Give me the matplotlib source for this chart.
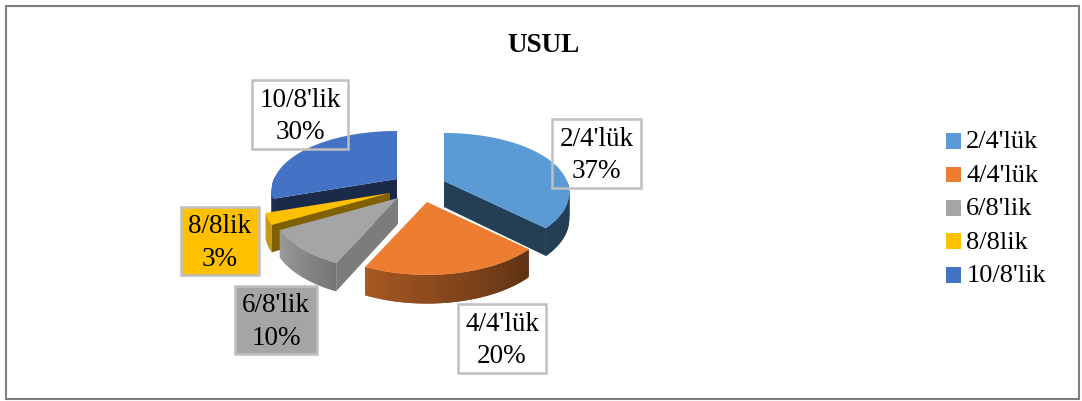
import numpy as np
import matplotlib
matplotlib.use('Agg')
import matplotlib.pyplot as plt
from matplotlib.patches import Polygon, Rectangle, Patch

categories = ["2/4'lük", "4/4'lük", "6/8'lik", "8/8lik", "10/8'lik"]
values = [37, 20, 10, 3, 30]
percents = ['37%', '20%', '10%', '3%', '30%']
colors = ['#5B9BD5', '#ED7D31', '#A5A5A5', '#FFC000', '#4472C4']

# apex of each slice after explosion, in pixels
apex = [(444, 181), (427, 202), (398, 198), (390, 193), (397, 179)]
wall_shade = [0.40, 0.40, 0.75, 0.50, 0.38]
outer_cap = [0.40, 0.72, 0.95, 0.75, 0.40]
# label boxes: left, top, right, bottom
boxes = [(552, 119, 641, 188), (458, 304, 546, 373), (235, 286, 317, 354),
         (181, 207, 259, 275), (252, 80, 348, 149)]
box_filled = [False, False, True, True, False]
draw_order = [4, 3, 2, 0, 1]
RX, RY, KX, KY = 123, 60.5, 0.20, 0.206
H = 26

plt.rcParams['font.family'] = ['Liberation Serif', 'DejaVu Serif']


def project(ax0, ay0, ang):
    # unit circle position to screen, near edge drawn larger
    x = np.sin(np.radians(ang))
    y = np.cos(np.radians(ang))
    return ax0 + RX * x * (1 - KX * y), ay0 - RY * y * (1 - KY * y), H * (1 - 0.1 * y)


def shade(col, f):
    return tuple(c * f for c in matplotlib.colors.to_rgb(col))


def draw_slice(ax, i, a0, a1, z):
    ax0, ay0 = apex[i]
    col = colors[i]
    # radial cut walls facing the viewer
    for a, visible in ((a0, np.sin(np.radians(a0)) < -1e-6), (a1, np.sin(np.radians(a1)) > 1e-6)):
        if visible:
            ex, ey, h = project(ax0, ay0, a)
            ax.add_patch(Polygon([(ax0, ay0), (ex, ey), (ex, ey + h), (ax0, ay0 + H)],
                                 closed=True, fc=shade(col, wall_shade[i]), ec='none', zorder=z))
    # outer wall in small strips for the gradient, each overlaps the next to hide seams
    angs = np.linspace(a0, a1, 60)
    strip = 2 * (angs[1] - angs[0])
    for p in angs[:-1]:
        if 90 <= p <= 270:
            q = min(p + strip, a1)
            f = min(np.interp(p, [133, 205, 241], [0.40, 0.71, 0.95]), outer_cap[i])
            x0, y0, h0 = project(ax0, ay0, p)
            x1, y1, h1 = project(ax0, ay0, q)
            ax.add_patch(Polygon([(x0, y0), (x1, y1), (x1, y1 + h1), (x0, y0 + h0)],
                                 closed=True, fc=shade(col, f), ec='none', zorder=z))
    # top face
    xs, ys, _ = project(ax0, ay0, angs)
    pts = [(ax0, ay0)] + list(zip(xs, ys))
    ax.add_patch(Polygon(pts, closed=True, fc=col, ec='none', zorder=z + 0.5))


fig = plt.figure(figsize=(10.82, 4.01), dpi=100)
ax = fig.add_axes([0, 0, 1, 1])
ax.set_xlim(0, 1082)
ax.set_ylim(401, 0)
ax.axis('off')

ax.add_patch(Rectangle((6, 6), 1073, 393, fc='white', ec='#7F7F7F', lw=1.5, zorder=0))
ax.text(544, 45, 'USUL', ha='center', va='center', fontsize=19.5, fontweight='bold', zorder=20)

edges = np.concatenate([[0], np.cumsum(values)]) / sum(values) * 360
for z, i in enumerate(draw_order):
    draw_slice(ax, i, edges[i], edges[i + 1], z + 2)

for i, (l, t, r, b) in enumerate(boxes):
    ax.add_patch(Rectangle((l, t), r - l, b - t, fc=colors[i] if box_filled[i] else 'none',
                           ec='#BFBFBF', lw=1.8, zorder=10))
    ax.text((l + r) / 2, (t + b) / 2 + 2, categories[i] + '\n' + percents[i], ha='center', va='center',
            fontsize=19.5, linespacing=1.42, color='black', zorder=11)

handles = [Patch(fc=c, ec='none') for c in colors]
leg = ax.legend(handles, categories, loc='center left', bbox_to_anchor=(946, 209),
                bbox_transform=ax.transData, frameon=False, fontsize=19, handlelength=0.55,
                handleheight=0.55, handletextpad=0.22, labelspacing=0.42, borderpad=0, borderaxespad=0)
for h in leg.legend_handles:
    h.set_y(h.get_y() - 1.5)

fig.savefig('out.png', dpi=100)
